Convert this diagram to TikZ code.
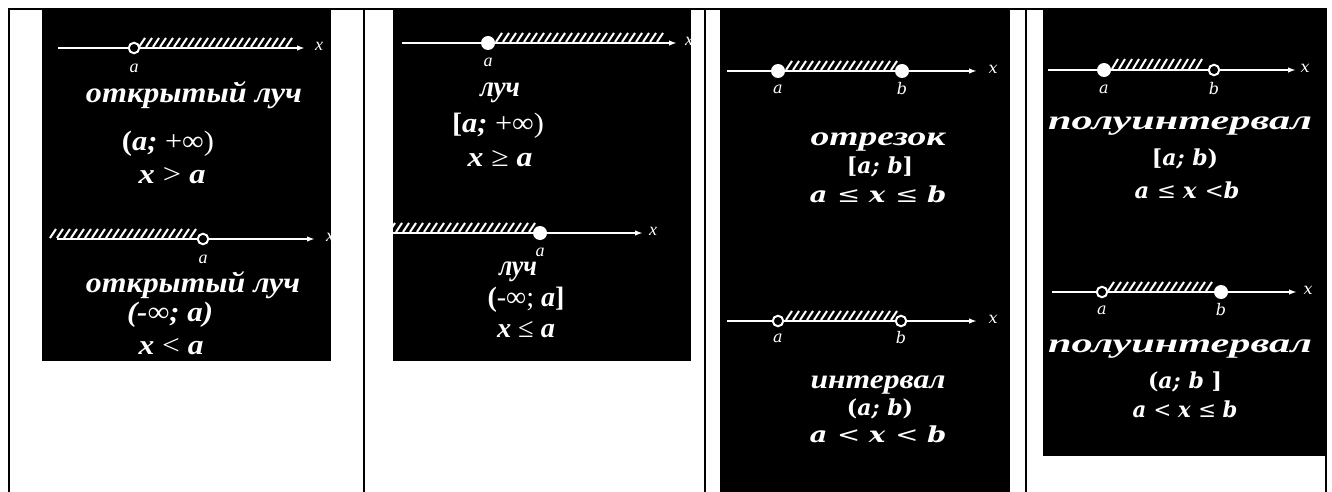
\documentclass[tikz,border=0pt]{standalone}
\usepackage{fontspec}
\setmainfont{Liberation Serif}
\newfontfamily\dvs{DejaVu Serif}
\usetikzlibrary{arrows.meta}
\newcommand{\fsz}[1]{\fontsize{#1}{#1}\selectfont}
\newcommand{\wbox}[3]{\resizebox{#1pt}{\height}{\fsz{#2}#3}}
% hatch: first x, second x, last x, bottom y, top y
\newcommand{\hatchrun}[5]{\foreach \hx in {#1,#2,...,#3}{\draw[hatchline] (\hx,#4) -- ++(6,#5-#4);}}
\tikzset{
  panel/.style={fill=black, draw=none},
  rulel/.style={line width=2pt, black},
  axisl/.style={white, line width=2.1pt, -{Latex[length=8pt,width=5.5pt]}},
  hatchline/.style={white, line width=2pt},
  opendot/.style={circle, draw=white, fill=black, line width=2pt, minimum size=10.5pt, inner sep=0pt},
  fulldot/.style={circle, fill=white, draw=none, minimum size=14pt, inner sep=0pt},
  lbl/.style={white, font=\fsz{18}\itshape, inner sep=0pt},
  lblc/.style={white, font=\dvs\fsz{16}\itshape, inner sep=0pt},
  word/.style={white, inner sep=0pt, font=\bfseries\itshape},
  frm/.style={white, inner sep=0pt, font=\bfseries},
  frmc/.style={white, inner sep=0pt, font=\dvs\bfseries\fsz{22}},
}
\begin{document}
\begin{tikzpicture}[x=1pt,y=-1pt]
\useasboundingbox (0,0) rectangle (1332,492);
\fill[white] (0,0) rectangle (1332,492);
% table rules
\draw[rulel] (8,9) -- (1327,9);
\draw[rulel] (9,8) -- (9,492);
\draw[rulel] (364,8) -- (364,492);
\draw[rulel] (705,8) -- (705,492);
\draw[rulel] (1026,8) -- (1026,492);
\draw[rulel] (1326,8) -- (1326,492);
% panels
\fill[panel] (42,10) rectangle (331,361);
\fill[panel] (393,10) rectangle (691,361);
\fill[panel] (720,10) rectangle (1010,492);
\fill[panel] (1043,10) rectangle (1325,456);

% ---------- Panel 1 ----------
\begin{scope}
\clip (42,10) rectangle (331,361);
\coordinate (p1s) at (58,48); \coordinate (p1e) at (305,48);
\draw[axisl] (p1s) -- (p1e);
\hatchrun{139}{146}{288}{47}{38}
\node[opendot] (p1a) at (134,48) {};
\node[lbl] (p1x) at (319,46) {x};
\node[lbl] (p1al) at (134,68) {a};
\node[word] (p1w) at (194,95) {\wbox{216}{29}{открытый луч}};
\node[frm] (p1f) at (168,144) {\wbox{92}{28}{(\textit{a;} \mdseries+∞)}};
\node[frm] (p1g) at (172,176) {\wbox{67}{28}{\textit{x} \mdseries> \bfseries\textit{a}}};

\coordinate (p1s2) at (57,239); \coordinate (p1e2) at (315,239);
\draw[axisl] (p1s2) -- (p1e2);
\hatchrun{50}{57}{190}{238}{229}
\node[opendot] (p1b) at (203,239) {};
\node[lbl] (p1x2) at (330,237) {x};
\node[lbl] (p1bl) at (203,259) {a};
\node[word] (p1w2) at (193,285) {\wbox{214}{29}{открытый луч}};
\node[frm] (p1h) at (170,315) {\wbox{86}{28}{\itshape(-∞; a)}};
\node[frm] (p1i) at (171,347) {\wbox{65}{28}{\textit{x} \mdseries< \bfseries\textit{a}}};
\end{scope}

% ---------- Panel 2 ----------
\begin{scope}
\clip (393,10) rectangle (691,361);
\coordinate (p2s) at (402,43); \coordinate (p2e) at (677,43);
\draw[axisl] (p2s) -- (p2e);
\hatchrun{496}{503}{657}{42}{33}
\node[fulldot] (p2a) at (488,43) {};
\node[lbl] (p2x) at (689,41) {x};
\node[lbl] (p2al) at (488,62) {a};
\node[word] (p2w) at (500,93) {\wbox{40}{29}{луч}};
\node[frm] (p2f) at (498,126) {\wbox{92}{28}{[\textit{a;} \mdseries+∞)}};
\node[frm] (p2g) at (500,159) {\wbox{65}{28}{\textit{x} \mdseries≥ \bfseries\textit{a}}};

\coordinate (p2s2) at (390,233); \coordinate (p2e2) at (643,233);
\draw[axisl] (p2s2) -- (p2e2);
\hatchrun{389}{396}{529}{232}{223}
\node[fulldot] (p2b) at (540,233) {};
\node[lbl] (p2x2) at (653,231) {x};
\node[lbl] (p2bl) at (540,252) {a};
\node[word] (p2w2) at (518,272) {\wbox{38}{29}{луч}};
\node[frm] (p2h) at (526,300) {\wbox{77}{28}{(\mdseries-∞; \bfseries\textit{a}]}};
\node[frm] (p2i) at (526,330) {\wbox{58}{28}{\textit{x} \mdseries≤ \bfseries\textit{a}}};
\end{scope}

% ---------- Panel 3 ----------
\begin{scope}
\clip (720,10) rectangle (1010,492);
\coordinate (p3s) at (727,71); \coordinate (p3e) at (977,71);
\draw[axisl] (p3s) -- (p3e);
\hatchrun{786}{793}{891}{70}{61}
\node[fulldot] (p3a) at (778,71) {};
\node[fulldot] (p3b) at (902,71) {};
\node[lblc] (p3x) at (993,69) {x};
\node[lblc] (p3al) at (778,89) {a};
\node[lblc] (p3bl) at (902,89) {b};
\node[word] (p3w) at (878,142) {\wbox{135}{27}{отрезок}};
\node[frmc] (p3f) at (880,167) {[\textit{a;} \textit{b}]};
\node[frmc] (p3g) at (878,194) {\wbox{137}{22}{\textit{a} \mdseries≤ \bfseries\textit{x} \mdseries≤ \bfseries\textit{b}}};

\coordinate (p3s2) at (727,321); \coordinate (p3e2) at (977,321);
\draw[axisl] (p3s2) -- (p3e2);
\hatchrun{786}{793}{891}{320}{311}
\node[opendot] (p3c) at (778,321) {};
\node[opendot] (p3d) at (901,321) {};
\node[lblc] (p3x2) at (993,319) {x};
\node[lblc] (p3cl) at (778,338) {a};
\node[lblc] (p3dl) at (901,338) {b};
\node[word] (p3w2) at (878,385) {\wbox{135}{27}{интервал}};
\node[frmc] (p3h) at (880,409) {(\textit{a;} \textit{b})};
\node[frmc] (p3i) at (878,434) {\wbox{137}{22}{\textit{a} \mdseries< \bfseries\textit{x} \mdseries< \bfseries\textit{b}}};
\end{scope}

% ---------- Panel 4 ----------
\begin{scope}
\clip (1043,10) rectangle (1325,456);
\coordinate (p4s) at (1048,70); \coordinate (p4e) at (1296,70);
\draw[axisl] (p4s) -- (p4e);
\hatchrun{1112}{1119}{1201}{69}{59}
\node[fulldot] (p4a) at (1104,70) {};
\node[opendot] (p4b) at (1214,70) {};
\node[lblc] (p4x) at (1305,68) {x};
\node[lblc] (p4al) at (1104,89) {a};
\node[lblc] (p4bl) at (1214,89) {b};
\node[word] (p4w) at (1180,126) {\wbox{264}{27}{полуинтервал}};
\node[frmc] (p4f) at (1185,159) {[\textit{a;} \textit{b})};
\node[frmc] (p4g) at (1187,190) {\wbox{105}{22}{\textit{a} \mdseries≤ \bfseries\textit{x} \mdseries<\bfseries\textit{b}}};

\coordinate (p4s2) at (1052,292); \coordinate (p4e2) at (1297,292);
\draw[axisl] (p4s2) -- (p4e2);
\hatchrun{1108}{1115}{1206}{291}{282}
\node[opendot] (p4c) at (1102,292) {};
\node[fulldot] (p4d) at (1221,292) {};
\node[lblc] (p4x2) at (1308,290) {x};
\node[lblc] (p4cl) at (1102,310) {a};
\node[lblc] (p4dl) at (1221,310) {b};
\node[word] (p4w2) at (1180,349) {\wbox{264}{27}{полуинтервал}};
\node[frmc] (p4h) at (1185,382) {(\textit{a;} \textit{b} ]};
\node[frmc] (p4i) at (1185,409) {\wbox{105}{22}{\textit{a} \mdseries< \bfseries\textit{x} \mdseries≤ \bfseries\textit{b}}};
\end{scope}
\end{tikzpicture}
\end{document}
